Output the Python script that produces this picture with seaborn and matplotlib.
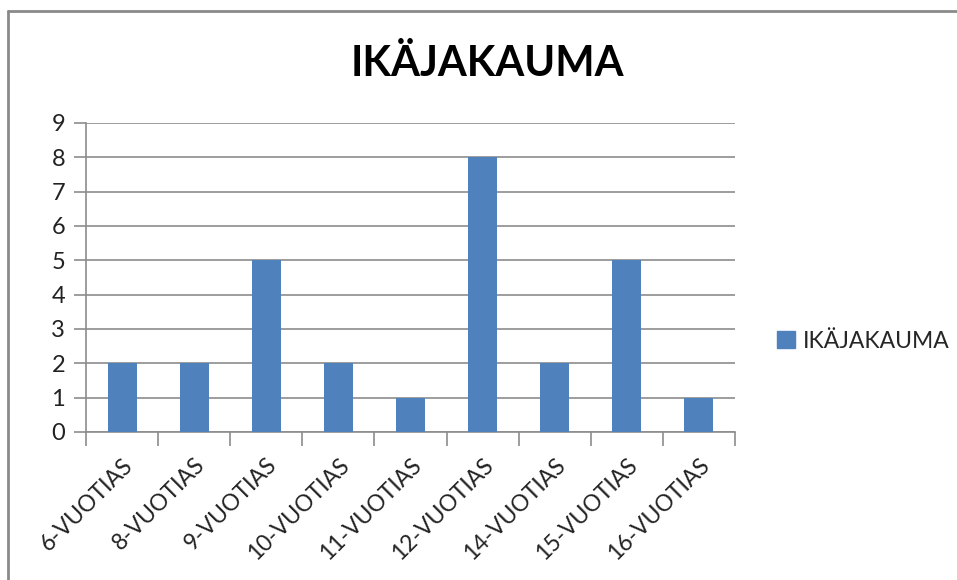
import matplotlib
matplotlib.use("Agg")
import numpy as np
import pandas as pd
import seaborn as sns
from matplotlib import pyplot as plt
from matplotlib.lines import Line2D
from matplotlib.patches import Patch

title = "IKÄJAKAUMA"
series_name = "IKÄJAKAUMA"
categories = [
    "6-VUOTIAS", "8-VUOTIAS", "9-VUOTIAS", "10-VUOTIAS", "11-VUOTIAS",
    "12-VUOTIAS", "14-VUOTIAS", "15-VUOTIAS", "16-VUOTIAS",
]
counts = [2, 2, 5, 2, 1, 8, 2, 5, 1]
y_ticks = list(range(0, 10))

bar_color = "#4F81BD"
grid_color = "#8C8C8C"

df = pd.DataFrame({"age": categories, "count": counts})

sns.set_theme(style="white")
plt.rcParams["font.family"] = ["Lato", "DejaVu Sans"]

fig = plt.figure(figsize=(9.57, 5.8), dpi=100)
ax = fig.add_axes([0.0899, 0.2552, 0.678, 0.5328])

sns.barplot(data=df, x="age", y="count", color=bar_color, width=0.4,
            saturation=1, linewidth=0, ax=ax, zorder=3)

ax.set_ylim(0, 9)
ax.set_xlim(-0.5, len(categories) - 0.5)
ax.set_yticks(y_ticks)
ax.set_yticklabels([str(v) for v in y_ticks], fontsize=17, color="#222222")
ax.yaxis.grid(True, color=grid_color, linewidth=1.2, zorder=0)
ax.set_axisbelow(True)

ax.set_xticks(range(len(categories)))
ax.set_xticklabels(categories, rotation=45, ha="right",
                   rotation_mode="anchor", fontsize=16.5, color="#222222")
ax.set_xticks(np.arange(-0.5, len(categories), 1.0), minor=True)
ax.tick_params(axis="x", which="major", length=0, pad=16)
ax.tick_params(axis="x", which="minor", length=10, width=1.2,
               color=grid_color, direction="out", bottom=True)
ax.tick_params(axis="y", which="major", length=9, width=1.2,
               color=grid_color, direction="out", left=True, pad=6)

for side in ["top", "right"]:
    ax.spines[side].set_visible(False)
for side in ["left", "bottom"]:
    ax.spines[side].set_color(grid_color)
    ax.spines[side].set_linewidth(1.2)

ax.set_xlabel("")
ax.set_ylabel("")

fig.text(0.509, 0.89, title, ha="center", va="center",
         fontsize=30, fontweight="bold", color="black")

handles = [Patch(facecolor=bar_color, edgecolor=bar_color, label=series_name)]
fig.legend(handles=handles, loc="center left", bbox_to_anchor=(0.79, 0.412),
           frameon=False, fontsize=16.5, handlelength=0.8, handleheight=0.8,
           handletextpad=0.35)

# chart area border
fig.add_artist(Line2D([8 / 957, 1.0], [1 - 11 / 580, 1 - 11 / 580],
                      transform=fig.transFigure, color="#8A8A8A", linewidth=2))
fig.add_artist(Line2D([8 / 957, 8 / 957], [0.0, 1 - 11 / 580],
                      transform=fig.transFigure, color="#8A8A8A", linewidth=2))

fig.savefig("out.png", dpi=100, facecolor="white")
